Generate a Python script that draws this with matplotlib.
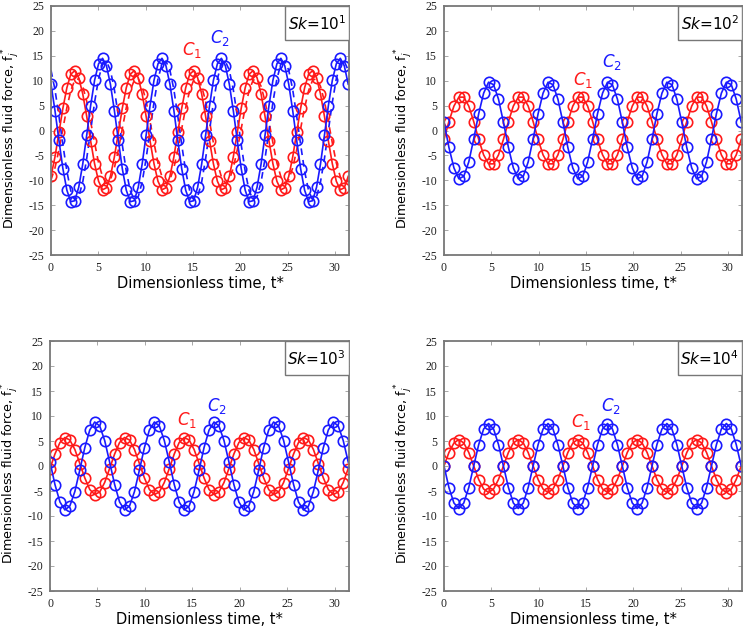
import matplotlib
matplotlib.use("Agg")
import matplotlib.pyplot as plt
from matplotlib.patches import Rectangle

# ---------------- data ----------------
# Panel Sk=10^1 (denser sampling)
t_sk1 = [0.00, 0.42, 0.84, 1.26, 1.68, 2.09, 2.51, 2.93, 3.35, 3.77, 4.19, 4.61, 5.03, 5.45, 5.86,
         6.28, 6.70, 7.12, 7.54, 7.96, 8.38, 8.80, 9.22, 9.63, 10.05, 10.47, 10.89, 11.31, 11.73, 12.15,
         12.57, 12.99, 13.40, 13.82, 14.24, 14.66, 15.08, 15.50, 15.92, 16.34, 16.76, 17.17, 17.59, 18.01, 18.43,
         18.85, 19.27, 19.69, 20.11, 20.53, 20.94, 21.36, 21.78, 22.20, 22.62, 23.04, 23.46, 23.88, 24.30, 24.71,
         25.13, 25.55, 25.97, 26.39, 26.81, 27.23, 27.65, 28.07, 28.48, 28.90, 29.32, 29.74, 30.16, 30.58, 31.00,
         31.42]
c1_sk1 = [-9.2, -5.3, -0.4, 4.5, 8.6, 11.3, 12.0, 10.6, 7.4, 2.9, -2.1, -6.7, -10.2, -11.9, -11.5,
          -9.2, -5.3, -0.4, 4.5, 8.6, 11.3, 12.0, 10.6, 7.4, 2.9, -2.1, -6.7, -10.2, -11.9, -11.5,
          -9.2, -5.3, -0.4, 4.5, 8.6, 11.3, 12.0, 10.6, 7.4, 2.9, -2.1, -6.7, -10.2, -11.9, -11.5,
          -9.2, -5.3, -0.4, 4.5, 8.6, 11.3, 12.0, 10.6, 7.4, 2.9, -2.1, -6.7, -10.2, -11.9, -11.5,
          -9.2, -5.3, -0.4, 4.5, 8.6, 11.3, 12.0, 10.6, 7.4, 2.9, -2.1, -6.7, -10.2, -11.9, -11.5,
          -9.2]
c2_sk1 = [9.3, 4.0, -2.0, -7.7, -12.0, -14.3, -14.1, -11.4, -6.8, -1.0, 5.0, 10.1, 13.4, 14.5, 13.0,
          9.3, 4.0, -2.0, -7.7, -12.0, -14.3, -14.1, -11.4, -6.8, -1.0, 5.0, 10.1, 13.4, 14.5, 13.0,
          9.3, 4.0, -2.0, -7.7, -12.0, -14.3, -14.1, -11.4, -6.8, -1.0, 5.0, 10.1, 13.4, 14.5, 13.0,
          9.3, 4.0, -2.0, -7.7, -12.0, -14.3, -14.1, -11.4, -6.8, -1.0, 5.0, 10.1, 13.4, 14.5, 13.0,
          9.3, 4.0, -2.0, -7.7, -12.0, -14.3, -14.1, -11.4, -6.8, -1.0, 5.0, 10.1, 13.4, 14.5, 13.0,
          9.3]
c1_sk1_dash = [-9.9, -7.5, -3.9, 0.4, 4.6, 8.0, 10.1, 10.4, 8.9, 5.9, 1.8, -2.5, -6.5, -9.3, -10.5,
               -9.9, -7.5, -3.9, 0.4, 4.6, 8.0, 10.1, 10.4, 8.9, 5.9, 1.8, -2.5, -6.5, -9.3, -10.5,
               -9.9, -7.5, -3.9, 0.4, 4.6, 8.0, 10.1, 10.4, 8.9, 5.9, 1.8, -2.5, -6.5, -9.3, -10.5,
               -9.9, -7.5, -3.9, 0.4, 4.6, 8.0, 10.1, 10.4, 8.9, 5.9, 1.8, -2.5, -6.5, -9.3, -10.5,
               -9.9, -7.5, -3.9, 0.4, 4.6, 8.0, 10.1, 10.4, 8.9, 5.9, 1.8, -2.5, -6.5, -9.3, -10.5,
               -9.9]
c2_sk1_dash = [12.1, 8.2, 2.9, -2.9, -8.2, -12.1, -13.9, -13.3, -10.4, -5.7, 0.0, 5.7, 10.4, 13.3, 13.9,
               12.1, 8.2, 2.9, -2.9, -8.2, -12.1, -13.9, -13.3, -10.4, -5.7, 0.0, 5.7, 10.4, 13.3, 13.9,
               12.1, 8.2, 2.9, -2.9, -8.2, -12.1, -13.9, -13.3, -10.4, -5.7, 0.0, 5.7, 10.4, 13.3, 13.9,
               12.1, 8.2, 2.9, -2.9, -8.2, -12.1, -13.9, -13.3, -10.4, -5.7, 0.0, 5.7, 10.4, 13.3, 13.9,
               12.1, 8.2, 2.9, -2.9, -8.2, -12.1, -13.9, -13.3, -10.4, -5.7, 0.0, 5.7, 10.4, 13.3, 13.9,
               12.1]

# Panels Sk=10^2, 10^3, 10^4
t_std = [0.00, 0.52, 1.05, 1.57, 2.09, 2.62, 3.14, 3.67, 4.19, 4.71, 5.24, 5.76,
         6.28, 6.81, 7.33, 7.85, 8.38, 8.90, 9.42, 9.95, 10.47, 11.00, 11.52, 12.04,
         12.57, 13.09, 13.61, 14.14, 14.66, 15.18, 15.71, 16.23, 16.76, 17.28, 17.80, 18.33,
         18.85, 19.37, 19.90, 20.42, 20.94, 21.47, 21.99, 22.51, 23.04, 23.56, 24.09, 24.61,
         25.13, 25.66, 26.18, 26.70, 27.23, 27.75, 28.27, 28.80, 29.32, 29.85, 30.37, 30.89,
         31.42]
c1_sk2 = [-1.8, 1.8, 4.9, 6.7, 6.7, 4.9, 1.8, -1.8, -4.9, -6.7, -6.7, -4.9,
          -1.8, 1.8, 4.9, 6.7, 6.7, 4.9, 1.8, -1.8, -4.9, -6.7, -6.7, -4.9,
          -1.8, 1.8, 4.9, 6.7, 6.7, 4.9, 1.8, -1.8, -4.9, -6.7, -6.7, -4.9,
          -1.8, 1.8, 4.9, 6.7, 6.7, 4.9, 1.8, -1.8, -4.9, -6.7, -6.7, -4.9,
          -1.8, 1.8, 4.9, 6.7, 6.7, 4.9, 1.8, -1.8, -4.9, -6.7, -6.7, -4.9,
          -1.8]
c2_sk2 = [1.7, -3.4, -7.5, -9.7, -9.2, -6.3, -1.7, 3.4, 7.5, 9.7, 9.2, 6.3,
          1.7, -3.4, -7.5, -9.7, -9.2, -6.3, -1.7, 3.4, 7.5, 9.7, 9.2, 6.3,
          1.7, -3.4, -7.5, -9.7, -9.2, -6.3, -1.7, 3.4, 7.5, 9.7, 9.2, 6.3,
          1.7, -3.4, -7.5, -9.7, -9.2, -6.3, -1.7, 3.4, 7.5, 9.7, 9.2, 6.3,
          1.7, -3.4, -7.5, -9.7, -9.2, -6.3, -1.7, 3.4, 7.5, 9.7, 9.2, 6.3,
          1.7]
c1_sk3 = [-0.5, 2.4, 4.7, 5.7, 5.2, 3.3, 0.5, -2.4, -4.7, -5.7, -5.2, -3.3,
          -0.5, 2.4, 4.7, 5.7, 5.2, 3.3, 0.5, -2.4, -4.7, -5.7, -5.2, -3.3,
          -0.5, 2.4, 4.7, 5.7, 5.2, 3.3, 0.5, -2.4, -4.7, -5.7, -5.2, -3.3,
          -0.5, 2.4, 4.7, 5.7, 5.2, 3.3, 0.5, -2.4, -4.7, -5.7, -5.2, -3.3,
          -0.5, 2.4, 4.7, 5.7, 5.2, 3.3, 0.5, -2.4, -4.7, -5.7, -5.2, -3.3,
          -0.5]
c2_sk3 = [0.8, -3.7, -7.2, -8.8, -8.0, -5.1, -0.8, 3.7, 7.2, 8.8, 8.0, 5.1,
          0.8, -3.7, -7.2, -8.8, -8.0, -5.1, -0.8, 3.7, 7.2, 8.8, 8.0, 5.1,
          0.8, -3.7, -7.2, -8.8, -8.0, -5.1, -0.8, 3.7, 7.2, 8.8, 8.0, 5.1,
          0.8, -3.7, -7.2, -8.8, -8.0, -5.1, -0.8, 3.7, 7.2, 8.8, 8.0, 5.1,
          0.8, -3.7, -7.2, -8.8, -8.0, -5.1, -0.8, 3.7, 7.2, 8.8, 8.0, 5.1,
          0.8]
c1_sk4 = [0.0, 2.7, 4.6, 5.3, 4.6, 2.7, 0.0, -2.7, -4.6, -5.3, -4.6, -2.7,
          0.0, 2.7, 4.6, 5.3, 4.6, 2.7, 0.0, -2.7, -4.6, -5.3, -4.6, -2.7,
          0.0, 2.7, 4.6, 5.3, 4.6, 2.7, 0.0, -2.7, -4.6, -5.3, -4.6, -2.7,
          0.0, 2.7, 4.6, 5.3, 4.6, 2.7, 0.0, -2.7, -4.6, -5.3, -4.6, -2.7,
          0.0, 2.7, 4.6, 5.3, 4.6, 2.7, 0.0, -2.7, -4.6, -5.3, -4.6, -2.7,
          0.0]
c2_sk4 = [0.0, -4.3, -7.4, -8.5, -7.4, -4.3, 0.0, 4.3, 7.4, 8.5, 7.4, 4.3,
          0.0, -4.3, -7.4, -8.5, -7.4, -4.3, 0.0, 4.3, 7.4, 8.5, 7.4, 4.3,
          0.0, -4.3, -7.4, -8.5, -7.4, -4.3, 0.0, 4.3, 7.4, 8.5, 7.4, 4.3,
          0.0, -4.3, -7.4, -8.5, -7.4, -4.3, 0.0, 4.3, 7.4, 8.5, 7.4, 4.3,
          0.0, -4.3, -7.4, -8.5, -7.4, -4.3, 0.0, 4.3, 7.4, 8.5, 7.4, 4.3,
          0.0]

panel_labels = ["1", "2", "3", "4"]
x_ticks = [0, 5, 10, 15, 20, 25, 30]
y_ticks = [-25, -20, -15, -10, -5, 0, 5, 10, 15, 20, 25]
# label positions (data coords) for C1 / C2 annotations
c1_label_pos = [(14.9, 16.2), (14.7, 10.1), (14.4, 9.1), (14.5, 8.8)]
c2_label_pos = [(17.9, 18.6), (17.7, 13.8), (17.6, 12.0), (17.6, 12.0)]

# ---------------- figure ----------------
W, H = 747, 631
fig = plt.figure(figsize=(W / 100, H / 100), dpi=100)

def frac(x0, y0, x1, y1):
    return [x0 / W, 1 - y1 / H, (x1 - x0) / W, (y1 - y0) / H]

boxes = [frac(51, 6, 349, 255), frac(444, 6, 742, 255),
         frac(50, 341, 349, 591), frac(444, 341, 742, 591)]

RED = "#ff1a1a"
BLUE = "#1a1aff"
series = [
    (t_sk1, c1_sk1, c2_sk1),
    (t_std, c1_sk2, c2_sk2),
    (t_std, c1_sk3, c2_sk3),
    (t_std, c1_sk4, c2_sk4),
]

mk = dict(marker="o", markersize=7.5, markerfacecolor="none", markeredgewidth=1.2, linewidth=1.2)

for i, (box, (t, c1, c2)) in enumerate(zip(boxes, series)):
    ax = fig.add_axes(box)
    if i == 0:
        ax.plot(t, c1_sk1_dash, color=RED, linestyle=(0, (4, 3)), linewidth=1.2)
        ax.plot(t, c2_sk1_dash, color=BLUE, linestyle=(0, (4, 3)), linewidth=1.2)
    ax.plot(t, c1, color=RED, markeredgecolor=RED, **mk)
    ax.plot(t, c2, color=BLUE, markeredgecolor=BLUE, **mk)

    ax.set_xlim(0, 31.5)
    ax.set_ylim(-25, 25)
    ax.set_xticks(x_ticks)
    ax.set_yticks(y_ticks)
    ax.set_xticklabels([str(v) for v in x_ticks], family="Liberation Serif", fontsize=8.5, color="#222222")
    ax.set_yticklabels([str(v) for v in y_ticks], family="Liberation Serif", fontsize=8.5, color="#222222")
    ax.tick_params(direction="in", length=3, width=0.6, color="#999999",
                   top=True, right=True, pad=5)
    for s in ax.spines.values():
        s.set_color("#777777")
        s.set_linewidth(1.3)
    ax.set_xlabel("Dimensionless time, t*", fontsize=10.5)
    ax.xaxis.set_label_coords(0.5, -0.085)
    ax.set_ylabel(r"Dimensionless fluid force, f$_j^*$", fontsize=9.2)
    ax.yaxis.set_label_coords(-0.097, 0.47)

    # Sk box
    bx0 = 0.785
    by0 = 0.865
    ax.add_patch(Rectangle((bx0, by0), 1 - bx0, 1 - by0, transform=ax.transAxes,
                           facecolor="white", edgecolor="#777777", linewidth=1.0, zorder=5))
    ax.text((bx0 + 1) / 2, (by0 + 1) / 2 - 0.005, r"$\mathit{Sk}$=$\mathit{10}^{%s}$" % panel_labels[i],
            transform=ax.transAxes, ha="center", va="center", fontsize=11, style="italic", zorder=6)

    ax.text(*c1_label_pos[i], r"$C_1$", color=RED, fontsize=12, ha="center", va="center")
    ax.text(*c2_label_pos[i], r"$C_2$", color=BLUE, fontsize=12, ha="center", va="center")

fig.savefig("out.png", dpi=100)
